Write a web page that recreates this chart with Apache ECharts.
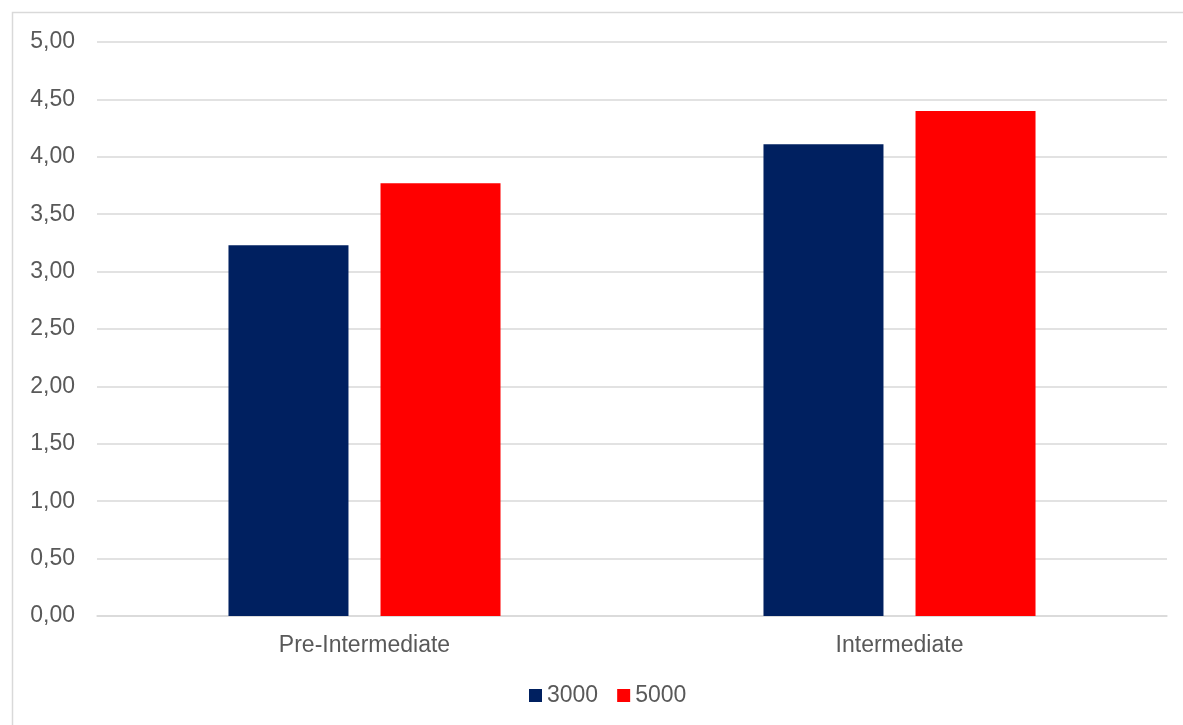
<!DOCTYPE html>
<html>
<head>
<meta charset="utf-8">
<script src="https://cdn.jsdelivr.net/npm/echarts@6/dist/echarts.min.js"></script>
<style>
  html, body { margin: 0; padding: 0; background: #fff; }
  #chart { width: 1183px; height: 725px; }
</style>
</head>
<body>
<div id="chart"></div>
<script>
// Categories and series values
const categories = ['Pre-Intermediate', 'Intermediate'];
const seriesNames = ['3000', '5000'];
const values3000 = [3.23, 4.11];
const values5000 = [3.77, 4.40];
const yTicks = { min: 0, max: 5, step: 0.5 };

const textColor = '#595959';
const lineColor = '#d9d9d9';
const font = 'Liberation Sans, Arial, sans-serif';

const chart = echarts.init(document.getElementById('chart'));
chart.setOption({
  animation: false,
  backgroundColor: '#fff',
  textStyle: { fontFamily: font },
  graphic: [{
    type: 'rect',
    shape: { x: 12.5, y: 12.5, width: 1190, height: 730 },
    style: { fill: 'none', stroke: lineColor, lineWidth: 1.5 },
    silent: true
  }],
  grid: { left: 97, right: 16, top: 42, bottom: 109, containLabel: false },
  legend: {
    data: seriesNames,
    left: 524,
    top: 679,
    itemWidth: 13,
    itemHeight: 13,
    itemGap: 19,
    icon: 'rect',
    textStyle: { color: textColor, fontSize: 23, fontFamily: font }
  },
  xAxis: {
    type: 'category',
    data: categories,
    axisLine: { show: true, lineStyle: { color: lineColor, width: 1.5 } },
    axisTick: { show: false },
    axisLabel: { color: textColor, fontSize: 23, fontFamily: font, margin: 18 }
  },
  yAxis: {
    type: 'value',
    min: yTicks.min,
    max: yTicks.max,
    interval: yTicks.step,
    axisLine: { show: false },
    axisTick: { show: false },
    splitLine: { lineStyle: { color: lineColor, width: 1.5 } },
    axisLabel: {
      color: textColor,
      fontSize: 23,
      fontFamily: font,
      margin: 22,
      padding: [3, 0, 0, 0],
      formatter: v => v.toFixed(2).replace('.', ',')
    }
  },
  series: [
    {
      name: seriesNames[0],
      type: 'bar',
      data: values3000,
      barWidth: 120,
      barGap: '26.7%',
      itemStyle: { color: '#002060' }
    },
    {
      name: seriesNames[1],
      type: 'bar',
      data: values5000,
      barWidth: 120,
      barGap: '26.7%',
      itemStyle: { color: '#ff0000' }
    }
  ]
});
</script>
</body>
</html>
